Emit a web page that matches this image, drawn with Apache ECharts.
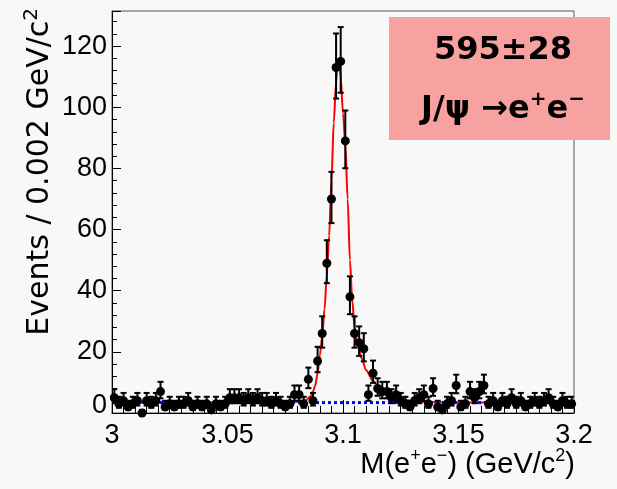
<!DOCTYPE html>
<html>
<head>
<meta charset="utf-8">
<script src="https://cdn.jsdelivr.net/npm/echarts@6/dist/echarts.min.js"></script>
<style>
  html, body { margin: 0; padding: 0; background: #f8f8f8; }
  #chart { width: 617px; height: 489px; }
</style>
</head>
<body>
<div id="chart"></div>
<script>
// --- binned data: 100 bins of 0.002 GeV/c2 from 3.0 to 3.2 ---
const binStart = 3.0;
const binWidth = 0.002;
const counts = [
  5, 3, 4, 2, 3, 4, 0, 4, 3, 4,
  7, 2, 3, 2, 3, 3, 4, 2, 3, 2,
  3, 1, 3, 2, 3, 5, 5, 5, 4, 5,
  4, 5, 4, 4, 3, 4, 3, 2, 3, 6,
  6, 3, 11, 4, 17, 26, 49, 70, 113, 115,
  89, 38, 26, 23, 21, 6, 13, 8, 7, 7,
  5, 6, 4, 3, 2, 4, 5, 6, 3, 8,
  2, 1, 3, 4, 9, 2, 3, 7, 5, 7,
  9, 3, 4, 2, 4, 3, 5, 3, 4, 2,
  3, 4, 3, 4, 5, 3, 2, 4, 3, 3
];

// fit curve (signal + background)
const fitX = [3.000, 3.070, 3.078, 3.082, 3.084, 3.086, 3.087, 3.088, 3.089, 3.090,
              3.091, 3.092, 3.093, 3.094, 3.095, 3.096, 3.097, 3.0975, 3.098, 3.0985,
              3.099, 3.100, 3.101, 3.102, 3.103, 3.104, 3.105, 3.106, 3.108, 3.110,
              3.113, 3.116, 3.119, 3.123, 3.128, 3.135, 3.150, 3.200];
const fitY = [3.4, 3.4, 3.5, 3.8, 4.2, 5.5, 7, 9, 13, 19,
              25, 34, 45, 58, 76, 95, 108, 113, 115, 114,
              110, 98, 88, 70, 50, 37, 28, 23, 18, 14,
              10.5, 8, 6.2, 4.9, 4.1, 3.6, 3.45, 3.4];

// background component
const bkgX = [3.0, 3.2];
const bkgY = [3.4, 3.4];

const yTickLabels = ['0', '20', '40', '60', '80', '100', '120'];

// --- build series data ---
const points = counts.map((n, i) => {
  const x = binStart + (i + 0.5) * binWidth;
  const s = Math.sqrt(n + 0.25);
  return [x, n, s - 0.5, s + 0.5];
});
const fitData = fitX.map((x, i) => [x, fitY[i]]);
const bkgData = bkgX.map((x, i) => [x, bkgY[i]]);

const LABEL_FONT = '"Liberation Sans Narrow", "Arial Narrow", "Liberation Sans", sans-serif';

function renderErrorBar(params, api) {
  const x = api.value(0), y = api.value(1);
  const top = api.coord([x, y + api.value(3)]);
  const bot = api.coord([x, y - api.value(2)]);
  const cap = 3;
  const st = { stroke: '#000', lineWidth: 2 };
  return {
    type: 'group',
    children: [
      { type: 'line', shape: { x1: top[0], y1: top[1], x2: bot[0], y2: bot[1] }, style: st },
      { type: 'line', shape: { x1: top[0] - cap, y1: top[1], x2: top[0] + cap, y2: top[1] }, style: st },
      { type: 'line', shape: { x1: bot[0] - cap, y1: bot[1], x2: bot[0] + cap, y2: bot[1] }, style: st }
    ]
  };
}

const chart = echarts.init(document.getElementById('chart'));
chart.setOption({
  backgroundColor: '#f8f8f8',
  animation: false,
  grid: {
    left: 112, right: 43, top: 11, bottom: 76,
    show: true, borderColor: '#555', borderWidth: 1, backgroundColor: 'transparent'
  },
  xAxis: {
    type: 'value', min: 3.0, max: 3.2, interval: 0.05,
    axisLine: { lineStyle: { color: '#000', width: 1 } },
    axisTick: { inside: true, length: 13, lineStyle: { color: '#000' } },
    minorTick: { show: true, splitNumber: 10, length: 7, lineStyle: { color: '#000' } },
    splitLine: { show: false },
    axisLabel: {
      margin: 9, color: '#000', fontSize: 27, fontFamily: LABEL_FONT,
      formatter: v => String(+v.toFixed(2))
    }
  },
  yAxis: {
    type: 'value', min: 0, max: 131.5, interval: 20,
    axisLine: { show: true, lineStyle: { color: '#000', width: 1 } },
    axisTick: { inside: true, length: 9, lineStyle: { color: '#000' } },
    minorTick: { show: true, splitNumber: 5, length: 5, lineStyle: { color: '#000' } },
    splitLine: { show: false },
    axisLabel: {
      margin: 5, color: '#000', fontSize: 27, fontFamily: LABEL_FONT, showMaxLabel: false,
      formatter: v => {
        const s = yTickLabels[Math.round(v / 20)] || '';
        return v === 0 ? '{z|' + s + '}' : s;
      },
      rich: { z: { fontSize: 27, fontFamily: LABEL_FONT, color: '#000', padding: [0, 0, 14, 0] } }
    }
  },
  series: [
    {
      name: 'fit', type: 'line', data: fitData, showSymbol: false, z: 2,
      smooth: 0.3, smoothMonotone: 'x',
      lineStyle: { color: '#ff0000', width: 2 }
    },
    {
      name: 'bkg', type: 'line', data: bkgData, showSymbol: false, z: 3,
      lineStyle: { color: '#0000ff', width: 3, type: [3, 3] }
    },
    {
      name: 'errors', type: 'custom', data: points, z: 4, clip: true,
      renderItem: renderErrorBar
    },
    {
      name: 'data', type: 'scatter', data: points.map(p => [p[0], p[1]]), z: 5,
      symbol: 'circle', symbolSize: 9, itemStyle: { color: '#000', opacity: 1 }
    }
  ],
  graphic: [
    {
      type: 'rect', z: 10,
      shape: { x: 389, y: 17, width: 221, height: 123 },
      style: { fill: '#f7a1a1' }
    },
    {
      type: 'text', z: 11, x: 503, y: 51,
      style: {
        text: '595±28', fill: '#000', align: 'center', verticalAlign: 'middle',
        font: 'bold 32px "DejaVu Sans", sans-serif'
      }
    },
    {
      type: 'text', z: 11, x: 503, y: 110,
      style: {
        text: '{m|J/ψ →e}{s|+}{m|e}{s|−}', align: 'center', verticalAlign: 'middle',
        rich: {
          m: { fontSize: 32, fontWeight: 'bold', fontFamily: '"DejaVu Sans", sans-serif', fill: '#000', lineHeight: 40 },
          s: { fontSize: 20, fontWeight: 'bold', fontFamily: '"DejaVu Sans", sans-serif', fill: '#000', lineHeight: 40, verticalAlign: 'top' }
        }
      }
    },
    {
      type: 'text', z: 11, x: 575, y: 465,
      style: {
        text: '{m|M(e}{s|+}{m|e}{s|−}{m|) (GeV/c}{s|2}{m|)}', align: 'right', verticalAlign: 'middle',
        rich: {
          m: { fontSize: 29, fontFamily: '"Liberation Sans", sans-serif', fill: '#000', lineHeight: 36 },
          s: { fontSize: 18, fontFamily: '"Liberation Sans", sans-serif', fill: '#000', lineHeight: 36, verticalAlign: 'top' }
        }
      }
    },
    {
      type: 'text', z: 11, x: 40, y: 8, rotation: Math.PI / 2,
      style: {
        text: '{m|Events / 0.002 GeV/c}{s|2}', align: 'right', verticalAlign: 'middle',
        rich: {
          m: { fontSize: 30, fontFamily: '"DejaVu Sans", sans-serif', fill: '#000', lineHeight: 36 },
          s: { fontSize: 20, fontFamily: '"DejaVu Sans", sans-serif', fill: '#000', lineHeight: 36, verticalAlign: 'top' }
        }
      }
    }
  ]
});
</script>
</body>
</html>
